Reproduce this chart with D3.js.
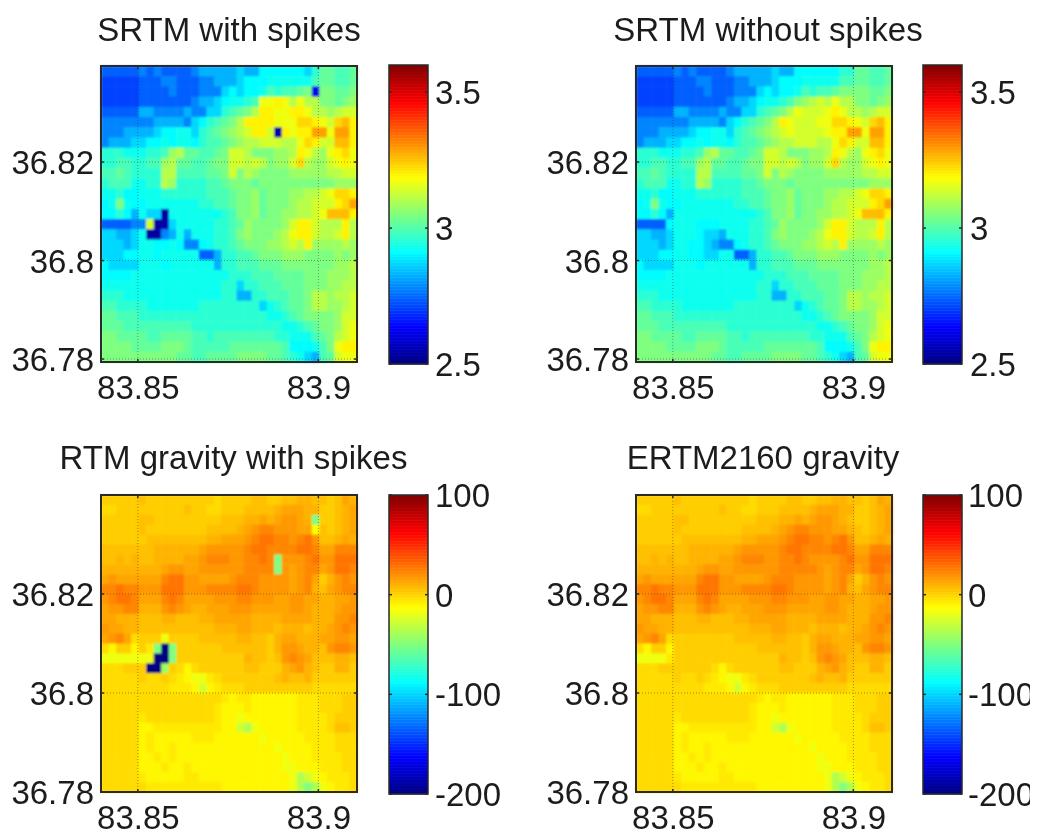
<!DOCTYPE html>
<html><head><meta charset="utf-8">
<script src="https://cdn.jsdelivr.net/npm/d3@7"></script>
<style>html,body{margin:0;background:#fff}svg{display:block;filter:blur(0.35px)}text{font-family:"Liberation Sans",Arial,sans-serif;fill:#1c1c1c}</style>
</head><body><div id="c"></div>
<script>
const titles = ["SRTM with spikes","SRTM without spikes","RTM gravity with spikes","ERTM2160 gravity"];
const lonTicks = [83.85,83.9];
const latTicks = [36.78,36.8,36.82];
const srtmTicks = [2.5,3,3.5];
const gravTicks = [-200,-100,0,100];
const srtmLevelKeys = "abcdefghijklmnopqrs";
const srtmLevels = [2.71,2.74,2.78,2.83,2.87,2.91,2.93,2.96,2.99,3.02,3.05,3.08,3.11,3.14,3.17,3.20,3.23,3.26,3.29];
const gravLevelKeys = "ABCDEFGHIJKLMN";
const gravLevels = [-50,-36,-26,-17,-10,-6,-2,2,6,10,14,18,23,28];
const srtmRows = [
"bbbbb cbcbbbbc ddddd e dd ffffff hh jjiij",
"aaaaa bbbccbbb ccddd e ff fggggg ii jjiij",
"aaaaa bbbbcbbb cccef e ff gihiij kk kkjjk",
"aaaaa bbbbbbb cdd efg ghi klm nmo mm kkjkl",
"bbbbb dd cccc dcc ee hij kmo nnn opo mmlmnn",
"ccccc cc ddd d c e f hij kmp onnn oo qqp on qrp",
"cccdd dd e ff gg e hij klmn onnnno pp ss o ss p",
"cddde ef fgfgg f hiij klmm nnnmm o qp nn rr p",
"hhh gg ghhi lm jjii jk nnm kkkllm po ml op qo",
"hhii h hii lm jjiij kk nnmnm kll nq mll nopo",
"iiji h hhh mm iiiijj kn k ml kkkk ll lllmmnn",
"hiii g ghh ml hhhhiij k kk jkkkkkk kkkklll",
"gghff ggghh hhhhiii jkkl jkkkll mmn o qq p",
"fgkgf fgggg ggghhii jkkl jkkkl mmnnn pqs",
"ffhfd ggggg gggggg hikkl jkkll mmno rrr p",
"bbbbf gggff fggggh hijlk kkkl n pp n mmm p m",
"eedde gggf eed gggh hikl kkkl mo pp nm mnpm",
"eeede ggff edccf ghh ijk kkll mn mp ll llml",
"eeeff ggff eegg bbd hhii jkkk lll kkkklkl",
"feeee gggfg ggggg d hhiii jjjkk kkkk kllm",
"ffffg ggggg gggggg ghhh iiijj jjkk klllm",
"ggggg ggggg gggggghh e hhiii jjjkk kllmm",
"hhhgg ggggg gggggghh dd hhii ijjk mmlmmn",
"iihhh hgggg ggghhhhhh hh e ghi jjk mmllmn",
"jjiii hhhhh hhhhhhhhh hhhg ghi jkk kklnn",
"jjjii iiiii iihhhhhhh hhhhh gg hi jkklno",
"kkjjj jiijj jjii hiiiiii iihh ggg ijk mno",
"kkkkj jjjkk kjii iiijjjj jjji fff g ik opp",
"kkkkk kkkkk jjii jjjjkkk kjji hg ed ij noo"
];
const gravRows = [
"HHHHH IHHHHHHH HHGHH H HI IHHIIJ JI IHIKJ",
"GGHHH HHHHHHIH HGGHH H II IIJKKK JJ HHIJK",
"HHHHH IIHHHHHH HHHII I JJ KJKLLK JI HHIJK",
"HHHHH IHHHHHHH HIIII J KL MMLLLK KJ IHIJK",
"HHHHH HIIIIIII IJJKK K LM NNMMLM NL IIJKJ",
"IIIII IIJJJJJJ KLLLL L MN NMMMMN NM KKMMM",
"IIJIJ IIJJJJKK LMMML L MM NMLLLL MN LLNNN",
"JJJJJ JJJKLLKK LLLLL L MM MMMLKL MM KLNNM",
"KLKKK KKKMNNLL KKKKL M MM LLLLKL MK HJLML",
"MMNMM LLLNNNLL LMMMM N NM LLLLKL MJ IKLMM",
"LMNNM KKKMNMKK KKLLL M ML LLKKLL KK JJKKL",
"KLLMM JJJLMLKJ JKKKL L LK KKKKLL KJ JJKLL",
"KKJJJ IIIJJIII JJKKK K KJ JJJKKK KJ JJLLM",
"LKKJJ IIIIIIII IIJJJ K KJ JJIJJJ IJ JKLML",
"KLMKG HHHHHHHH IIIII J JI IHJKKJ JJ KKLLK",
"GEHHE HHHHHHHH HHHII I II IHJLLK JJ ILMML",
"DDDDF HHHHHHHH HHHHH H JI IHILML KI IIJJI",
"GGGHH HHHHHGEG HHHHH H II HHHJKL JI HHJJH",
"GGGGG HGGHGFED DFGHH H HH HHIJII JH HHHHH",
"GGGGG GGGGFFFE CEFGG G HH HHHHHH HG GGGGG",
"GGGGG GGGGGGGG GGGFE F FE EEEEEF FF GGGHH",
"GGGGG GGGGGGGG GGFEE E FE EEEEEF FF GGGHH",
"GGGGG FGGGGGGG GGFEE D EE EEEEEF FF FGHHH",
"GGGGG EEFFFFFF FFFEE C BD EEEEEF FF FGIIH",
"GGGGG EFEEEEEF FFEEE E EE DEEEEE FF FFGGG",
"GGGGG EFEEFEEE EEEEE E EE EEDEEE EF FFGGG",
"GGGGG EEFEFEEE EEEEE E EE EEEDEE EF FFFGG",
"GGGGG EEEFEEFE EEEEE E EE EEEDDE EE FFFGG",
"GGGGG FEEEEEFF EEEEE E EE EEEEDB CD EFFFG",
"GGGGG GFFFFFFF FFFEE E EE EEEEDB AB DEFFG"
];
const srtmSpikes = [[2,28,2.62],[6,23,2.54],[14,8,2.54],[15,7,2.54],[15,8,2.54],[16,6,2.54],[16,7,2.54],
 [15,6,3.14],[15,4,2.78],[15,5,2.78],[14,6,2.87],[14,7,2.87],[16,8,2.78],[16,9,2.83],[16,10,2.93],[15,9,2.87],[15,10,2.93],
 [17,9,2.93],[17,10,2.91],[18,8,2.93],[18,9,2.93],[18,10,2.93],[0,27,2.87],[1,27,2.93],
 [3,21,3.17],[3,22,3.17],[3,23,3.2],[3,24,3.17],[4,21,3.2],[4,22,3.2],[4,23,3.17],[4,24,3.17],[4,25,3.2],[5,20,3.2],[5,21,3.2],[5,22,3.2],[5,23,3.17],[5,24,3.17],[6,20,3.2],[6,21,3.2],[6,24,3.2]];
const gravSpikes = [[15,8,-200],[16,7,-200],[16,8,-200],[17,6,-200],[17,7,-200],
 [14,8,-17],[15,7,-50],[15,9,-50],[16,9,-50],[17,8,-40],[16,5,-17],[16,6,-17],[15,6,-6],[16,4,-17],
 [2,28,-50],[3,28,-14],[6,23,-50],[7,23,-50]];
const W = 1038, H = 832;
const jetStops = [0,.125,.375,.625,.875,1];
const jetColors = ["#000080","#0000ff","#00ffff","#ffff00","#ff0000","#800000"];
const decode = (rows,keys,levels) => rows.map(r => Array.from(r.replace(/ /g,"")).map(c => levels[keys.indexOf(c)]));
const withSpikes = (m,sp) => { const o = m.map(r => r.slice()); sp.forEach(([i,j,v]) => o[i][j] = v); return o; };
const srtm = decode(srtmRows,srtmLevelKeys,srtmLevels);
const grav = decode(gravRows,gravLevelKeys,gravLevels);
const panels = [
 {m:withSpikes(srtm,srtmSpikes),dom:[2.5,3.6],ct:srtmTicks,x0:101,y0:66,y1:362,lat:[36.7794,36.8395],cb:[389,428,65,364],lab:435,t:229,ty:41},
 {m:srtm,dom:[2.5,3.6],ct:srtmTicks,x0:636,y0:66,y1:362,lat:[36.7794,36.8395],cb:[923,962,65,364],lab:970,t:768,ty:41},
 {m:withSpikes(grav,gravSpikes),dom:[-200,100],ct:gravTicks,x0:101,y0:495,y1:792,lat:[36.78,36.84],cb:[389,428,495,794],lab:435,t:233.5,ty:469},
 {m:grav,dom:[-200,100],ct:gravTicks,x0:636,y0:495,y1:792,lat:[36.78,36.84],cb:[923,962,495,794],lab:968,t:763,ty:469}
];
const svg = d3.select("#c").append("svg").attr("width",W).attr("height",H);
svg.append("clipPath").attr("id","pageclip").append("rect").attr("x",0).attr("y",0).attr("width",1030).attr("height",H);
svg.append("filter").attr("id","soft").attr("x","-2%").attr("y","-2%").attr("width","104%").attr("height","104%")
   .append("feGaussianBlur").attr("stdDeviation",0.8);
const root = svg.append("g").attr("clip-path","url(#pageclip)");
const PW = 256, FS = 33, DARK = "#2a2a2a";
const plainFmt = d => String(d);
panels.forEach((p,idx) => {
  const g = root.append("g");
  const h = p.y1-p.y0;
  const color = d3.scaleLinear().domain(jetStops.map(s => p.dom[0]+s*(p.dom[1]-p.dom[0]))).range(jetColors);
  const bx = d3.scaleBand().domain(d3.range(p.m[0].length)).range([p.x0,p.x0+PW]);
  const by = d3.scaleBand().domain(d3.range(p.m.length)).range([p.y0,p.y1]);
  const cells = p.m.flatMap((r,i) => r.map((v,j) => ({i,j,v})));
  g.append("g").attr("filter","url(#soft)").selectAll("rect").data(cells).join("rect")
    .attr("x",d=>bx(d.j)).attr("y",d=>by(d.i)).attr("width",bx.bandwidth()+.5).attr("height",by.bandwidth()+.5)
    .attr("fill",d=>color(d.v));
  const xs = d3.scaleLinear().domain([83.8398,83.9107]).range([p.x0,p.x0+PW]);
  const ys = d3.scaleLinear().domain(p.lat).range([p.y1,p.y0]);
  const grid = g.append("g").attr("stroke",DARK).attr("stroke-width",1).attr("stroke-dasharray","1 2").attr("opacity",.45);
  lonTicks.forEach(t => grid.append("line").attr("x1",xs(t)).attr("x2",xs(t)).attr("y1",p.y0).attr("y2",p.y1));
  latTicks.forEach(t => grid.append("line").attr("y1",ys(t)).attr("y2",ys(t)).attr("x1",p.x0).attr("x2",p.x0+PW));
  const tk = g.append("g").attr("stroke",DARK).attr("stroke-width",1.5);
  lonTicks.forEach(t => { tk.append("line").attr("x1",xs(t)).attr("x2",xs(t)).attr("y1",p.y0).attr("y2",p.y0+3); tk.append("line").attr("x1",xs(t)).attr("x2",xs(t)).attr("y1",p.y1).attr("y2",p.y1-3); });
  latTicks.forEach(t => { tk.append("line").attr("y1",ys(t)).attr("y2",ys(t)).attr("x1",p.x0).attr("x2",p.x0+3); tk.append("line").attr("y1",ys(t)).attr("y2",ys(t)).attr("x1",p.x0+PW).attr("x2",p.x0+PW-3); });
  g.append("rect").attr("x",p.x0).attr("y",p.y0).attr("width",PW).attr("height",h).attr("fill","none").attr("stroke",DARK).attr("stroke-width",2);
  const ax = d3.axisBottom(xs).tickValues(lonTicks).tickFormat(plainFmt).tickSize(0).tickPadding(0);
  const ag = g.append("g").attr("transform",`translate(0,${p.y1})`).call(ax);
  ag.select(".domain").remove();
  ag.selectAll("text").attr("font-size",FS).attr("dy",null).attr("y",37);
  const ay = d3.axisLeft(ys).tickValues(latTicks).tickFormat(plainFmt).tickSize(0).tickPadding(7);
  const yg = g.append("g").attr("transform",`translate(${p.x0},0)`).call(ay);
  yg.select(".domain").remove();
  yg.selectAll("text").attr("font-size",FS).attr("dy",".35em");
  g.append("text").attr("x",p.t).attr("y",p.ty).attr("text-anchor","middle").attr("font-size",33).text(titles[idx]);
  const [cx0,cx1,cy0,cy1] = p.cb;
  const cs = d3.scaleLinear().domain(p.dom).range([cy1,cy0]);
  const STEPS = 200;
  const st = (cy1-cy0)/STEPS;
  g.append("g").selectAll("rect").data(d3.range(STEPS)).join("rect")
    .attr("x",cx0).attr("width",cx1-cx0).attr("y",d=>cy1-(d+1)*st).attr("height",st+.5)
    .attr("fill",d=>color(p.dom[0]+(d+.5)/STEPS*(p.dom[1]-p.dom[0])));
  const cbt = g.append("g").attr("stroke",DARK).attr("stroke-width",1.5);
  p.ct.forEach(t => { cbt.append("line").attr("x1",cx0).attr("x2",cx0+3).attr("y1",cs(t)).attr("y2",cs(t)); cbt.append("line").attr("x1",cx1).attr("x2",cx1-3).attr("y1",cs(t)).attr("y2",cs(t)); });
  g.append("rect").attr("x",cx0).attr("y",cy0).attr("width",cx1-cx0).attr("height",cy1-cy0).attr("fill","none").attr("stroke",DARK).attr("stroke-width",1.5);
  const cax = d3.axisRight(cs).tickValues(p.ct).tickFormat(plainFmt).tickSize(0).tickPadding(0);
  const cg = g.append("g").attr("transform",`translate(${p.lab},0)`).call(cax);
  cg.select(".domain").remove();
  cg.selectAll("text").attr("font-size",FS).attr("x",0).attr("dy",".35em");
});
</script></body></html>
